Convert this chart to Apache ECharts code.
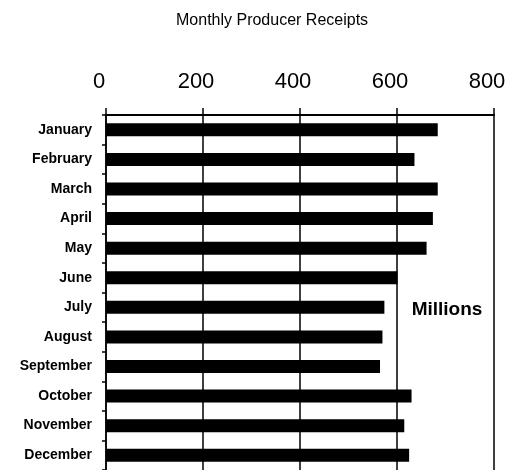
<!DOCTYPE html>
<html>
<head>
<meta charset="utf-8">
<script src="https://cdn.jsdelivr.net/npm/echarts@6/dist/echarts.min.js"></script>
<style>html,body{margin:0;padding:0;background:#fff;}#c{width:511px;height:470px;}</style>
</head>
<body>
<div id="c"></div>
<script>
var months = ['January','February','March','April','May','June','July','August','September','October','November','December'];
var receipts = [684, 636, 684, 674, 661, 601, 574, 570, 565, 630, 615, 625];
var xTicks = [0, 200, 400, 600, 800];
var titleText = 'Monthly Producer Receipts';
var unitText = 'Millions';

var FF = '"Liberation Sans", Arial, sans-serif';
var chart = echarts.init(document.getElementById('c'), null, {renderer: 'canvas'});
chart.setOption({
  backgroundColor: '#fff',
  animation: false,
  title: {
    text: titleText,
    left: 171, top: 8,
    textStyle: {fontFamily: FF, fontSize: 16, fontWeight: 'normal', color: '#000'}
  },
  grid: {left: 106, right: 17, top: 115, height: 358, containLabel: false},
  xAxis: {
    type: 'value', position: 'top',
    min: xTicks[0], max: xTicks[xTicks.length - 1], interval: xTicks[1] - xTicks[0],
    axisLine: {show: true, lineStyle: {color: '#000', width: 2}},
    axisTick: {show: true, inside: false, length: 7, lineStyle: {color: '#000', width: 1.5}},
    axisLabel: {show: true, color: '#000', fontFamily: FF, fontSize: 22, margin: 22, padding: [0, 14, 0, 0]},
    splitLine: {show: true, lineStyle: {color: '#000', width: 1.5}}
  },
  yAxis: {
    type: 'category', inverse: true, data: months,
    axisLine: {show: true, lineStyle: {color: '#000', width: 1.5}},
    axisTick: {show: true, length: 4, lineStyle: {color: '#000', width: 1.5}},
    axisLabel: {color: '#000', fontFamily: FF, fontSize: 14, fontWeight: 'bold', margin: 14}
  },
  series: [{
    type: 'bar', data: receipts, barWidth: 13,
    itemStyle: {color: '#000'}
  }],
  graphic: [{
    type: 'text', x: 447, y: 310,
    style: {text: unitText, fill: '#000', font: 'bold 19px ' + FF, textAlign: 'center', textVerticalAlign: 'middle'}
  }]
});
</script>
</body>
</html>
